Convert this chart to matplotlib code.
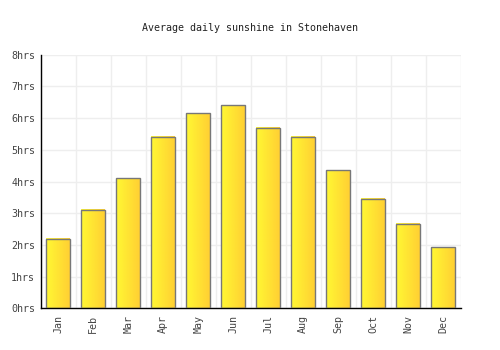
import matplotlib
matplotlib.use("Agg")
import matplotlib.pyplot as plt
import numpy as np
from matplotlib.colors import LinearSegmentedColormap

months = ["Jan", "Feb", "Mar", "Apr", "May", "Jun", "Jul", "Aug", "Sep", "Oct", "Nov", "Dec"]
sunshine = [2.2, 3.1, 4.1, 5.4, 6.15, 6.4, 5.7, 5.4, 4.35, 3.45, 2.65, 1.92]
yticks = [0, 1, 2, 3, 4, 5, 6, 7, 8]
ylabels = [f"{v}hrs" for v in yticks]

plt.rcParams['font.family'] = ['DejaVu Sans Mono']
fig = plt.figure(figsize=(5, 3.5), dpi=100)
ax = fig.add_axes([0.0814, 0.119, 0.8400, 0.7247])

x = np.arange(len(months))
w = 0.67
cmap = LinearSegmentedColormap.from_list("g", ["#fff833", "#ffd033"])
grad = np.linspace(0, 1, 64).reshape(1, -1)
bars = ax.bar(x, sunshine, width=w, facecolor="none", edgecolor="#777777", linewidth=1.0, zorder=3)
for b in bars:
    x0, y0 = b.get_x(), b.get_y()
    ax.imshow(grad, cmap=cmap, aspect="auto", extent=[x0, x0 + b.get_width(), y0, y0 + b.get_height()], zorder=2)

ax.set_xlim(-0.5, len(months) - 0.5)
ax.set_ylim(0, 8)
ax.set_xticks(x)
ax.set_xticklabels(months, rotation=90, fontsize=7.2, color="#444444")
ax.set_yticks(yticks)
ax.set_yticklabels(ylabels, fontsize=7.2, color="#444444")
ax.set_xticks(np.arange(-0.5, len(months), 1), minor=True)
ax.grid(True, which="minor", axis="x", color="#eeeeee", linewidth=1, zorder=0)
ax.grid(True, which="major", axis="y", color="#eeeeee", linewidth=1, zorder=0)
ax.tick_params(axis="x", which="both", length=0, pad=5)
ax.tick_params(axis="y", length=0, pad=4)
for s in ["top", "right"]:
    ax.spines[s].set_visible(False)
for s in ["left", "bottom"]:
    ax.spines[s].set_color("black")
    ax.spines[s].set_linewidth(1)
ax.set_axisbelow(True)
fig.text(0.5, 1 - 28 / 350, "Average daily sunshine in Stonehaven", ha="center", va="center", fontsize=7.2, color="#222222")
fig.savefig("out.png", dpi=100)
